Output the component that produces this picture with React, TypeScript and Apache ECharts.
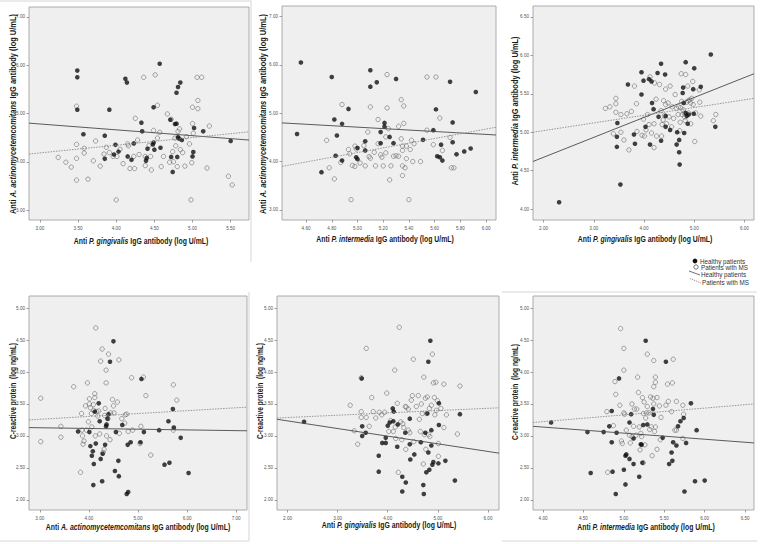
import React, { useEffect, useRef } from "react";
import * as echarts from "echarts";

// ---------- tick labels ----------
const ticksX1 = [3, 3.5, 4, 4.5, 5, 5.5];
const ticksY1 = [3, 4, 5, 6, 7];
const ticksX2 = [4.6, 4.8, 5.0, 5.2, 5.4, 5.6, 5.8, 6.0];
const ticksY2 = [3, 4, 5, 6, 7];
const ticksX3 = [2, 3, 4, 5, 6];
const ticksY3 = [4, 4.5, 5, 5.5, 6, 6.5];
const ticksX4 = [3, 4, 5, 6, 7];
const ticksX5 = [2, 3, 4, 5, 6];
const ticksX6 = [4, 4.5, 5, 5.5, 6, 6.5];
const ticksCrp = [2, 2.5, 3, 3.5, 4, 4.5, 5];

// ---------- axis titles ----------
const xTitles = [
  ["Anti ", "P. gingivalis", " IgG antibody (log U/mL)"],
  ["Anti ", "P. intermedia", " IgG antibody (log U/mL)"],
  ["Anti ", "P. gingivalis", " IgG antibody (log U/mL)"],
  ["Anti ", "A. actinomycetemcomitans", " IgG antibody (log U/mL)"],
  ["Anti ", "P. gingivalis", " IgG antibody (log U/mL)"],
  ["Anti ", "P. intermedia", " IgG antibody (log U/mL)"],
];
const yTitles = [
  ["Anti ", "A. actinomycetemcomitans", " IgG antibody (log U/mL)"],
  ["Anti ", "A. actinomycetemcomitans", " IgG antibody (log U/mL)"],
  ["Anti ", "P. intermedia", " IgG antibody (log U/mL)"],
  ["C-reactive protein  (log ng/mL)", "", ""],
  ["C-reactive protein  (log ng/mL)", "", ""],
  ["C-reactive protein  (log ng/mL)", "", ""],
];
const legendLabels = ["Healthy patients", "Patients with MS", "Healthy patients", "Patients with MS"];

// ---------- data: panel 1 (x: P. gingivalis, y: A. actinomycetemcomitans) ----------
const pgAaHealthy = [
  [3.49, 5.89], [3.49, 5.75], [3.49, 5.08], [3.57, 4.57], [3.85, 4.54], [3.85, 4.06], [3.91, 5.08],
  [3.97, 4.15], [3.99, 4.35], [4.03, 4.21], [4.12, 5.72], [4.14, 5.64], [4.15, 4.11], [4.2, 4.04],
  [4.23, 4.38], [4.33, 4.81], [4.34, 4.63], [4.39, 4.02], [4.4, 4.08], [4.41, 4.27], [4.48, 4.36],
  [4.49, 4.4], [4.49, 5.13], [4.5, 4.25], [4.58, 4.29], [4.57, 6.03], [4.71, 4.87], [4.72, 4.1],
  [4.74, 3.79], [4.77, 4.78], [4.79, 5.43], [4.8, 4.1], [4.81, 5.55], [4.84, 5.64], [4.79, 4.79],
  [4.81, 4.51], [4.82, 4.48], [4.86, 4.45], [5.0, 4.11], [5.01, 4.2], [5.02, 4.7], [5.14, 4.63],
  [5.5, 4.43],
];
const pgAaMS = [
  [3.24, 4.09], [3.34, 3.99], [3.41, 3.89], [3.48, 4.36], [3.48, 4.07], [3.48, 3.62], [3.48, 5.15],
  [3.58, 4.28], [3.58, 4.18], [3.63, 3.64], [3.7, 4.02], [3.73, 4.43], [3.79, 3.91], [3.84, 4.16],
  [3.87, 4.3], [3.91, 4.19], [3.96, 4.11], [4.0, 3.21], [4.01, 4.11], [4.05, 4.26], [4.09, 3.96],
  [4.15, 4.37], [4.16, 4.33], [4.18, 3.86], [4.23, 4.11], [4.24, 3.86], [4.25, 4.9], [4.28, 4.45],
  [4.3, 4.15], [4.36, 5.75], [4.38, 4.11], [4.38, 3.92], [4.43, 4.34], [4.45, 4.11], [4.46, 3.83],
  [4.49, 4.65], [4.51, 5.8], [4.54, 5.17], [4.54, 4.49], [4.57, 4.61], [4.59, 3.9], [4.62, 4.11],
  [4.67, 4.99], [4.7, 3.99], [4.72, 4.88], [4.74, 4.21], [4.75, 4.0], [4.77, 4.49], [4.78, 4.33],
  [4.8, 3.9], [4.81, 4.63], [4.83, 4.68], [4.84, 4.25], [4.87, 4.19], [4.9, 3.91], [4.92, 4.52],
  [4.96, 4.37], [4.98, 3.21], [4.99, 3.98], [5.0, 5.13], [5.0, 4.79], [5.01, 4.59], [5.07, 5.27],
  [5.07, 5.1], [5.06, 5.75], [5.12, 5.75], [5.19, 3.87], [5.22, 4.74], [5.47, 3.7], [5.52, 3.52],
];

// ---------- panel 2 (x: P. intermedia, y: A. actinomycetemcomitans) ----------
const piAaHealthy = [
  [4.56, 6.05], [4.53, 4.57], [4.72, 3.78], [4.8, 5.75], [4.82, 4.87], [4.84, 4.54], [4.83, 4.12],
  [4.88, 4.78], [4.88, 4.02], [4.93, 5.09], [5.0, 4.28], [4.99, 4.09], [5.0, 4.05], [5.06, 4.42],
  [5.06, 4.23], [5.1, 5.89], [5.1, 5.55], [5.15, 5.64], [5.18, 4.38], [5.18, 4.61], [5.21, 4.8],
  [5.21, 4.72], [5.25, 4.51], [5.28, 4.38], [5.3, 5.71], [5.51, 4.45], [5.59, 4.65], [5.62, 4.11],
  [5.64, 4.09], [5.61, 5.08], [5.65, 4.35], [5.72, 5.65], [5.74, 4.81], [5.74, 4.4], [5.77, 4.15],
  [5.83, 4.21], [5.88, 4.27], [5.92, 5.44], [5.66, 4.02],
];
const piAaMS = [
  [4.76, 4.44], [4.78, 3.87], [4.82, 3.64], [4.88, 5.18], [4.87, 3.98], [4.93, 4.25], [4.94, 4.16],
  [4.95, 3.21], [4.96, 3.92], [4.98, 3.9], [4.98, 4.32], [4.99, 4.26], [5.02, 3.97], [5.05, 4.33],
  [5.06, 3.91], [5.08, 4.61], [5.09, 4.1], [5.1, 4.07], [5.1, 5.13], [5.13, 4.19], [5.14, 3.91],
  [5.16, 4.87], [5.16, 4.37], [5.18, 4.14], [5.19, 4.09], [5.2, 3.91], [5.22, 4.51], [5.22, 4.18],
  [5.23, 5.8], [5.23, 5.11], [5.24, 4.68], [5.25, 3.62], [5.26, 3.91], [5.28, 4.11], [5.3, 4.12],
  [5.32, 4.73], [5.32, 4.11], [5.34, 5.28], [5.34, 4.47], [5.35, 4.32], [5.35, 4.23], [5.35, 3.91],
  [5.35, 3.71], [5.36, 5.15], [5.36, 4.79], [5.37, 3.87], [5.38, 4.06], [5.38, 4.32], [5.4, 3.21],
  [5.41, 4.25], [5.42, 4.44], [5.43, 4.0], [5.44, 4.37], [5.49, 4.0], [5.54, 5.75], [5.54, 4.65],
  [5.59, 4.35], [5.61, 5.75], [5.64, 4.9], [5.66, 4.23], [5.72, 4.5], [5.73, 3.87], [5.75, 3.87],
];

// ---------- panel 3 (x: P. gingivalis, y: P. intermedia) ----------
const pgPiHealthy = [
  [2.31, 4.09], [3.53, 4.32], [3.46, 4.81], [3.46, 4.94], [3.47, 5.12], [3.68, 5.62], [3.8, 4.97],
  [3.82, 4.85], [3.95, 5.49], [3.95, 5.78], [3.99, 5.67], [4.03, 5.07], [4.1, 5.69], [4.12, 4.84],
  [4.15, 5.66], [4.16, 5.38], [4.19, 5.3], [4.27, 5.77], [4.29, 5.2], [4.34, 5.89], [4.34, 4.89],
  [4.42, 5.75], [4.43, 5.21], [4.43, 5.07], [4.52, 5.03], [4.65, 4.84], [4.66, 5.0], [4.7, 4.9],
  [4.7, 4.74], [4.71, 4.58], [4.77, 5.51], [4.78, 5.58], [4.79, 5.38], [4.8, 4.99], [4.83, 5.91],
  [4.83, 5.25], [4.85, 5.21], [4.87, 5.11], [4.89, 5.23], [4.98, 5.56], [4.99, 5.24], [5.0, 5.83],
  [5.13, 5.59], [5.33, 6.01], [5.42, 5.07],
];
const pgPiMS = [
  [3.23, 5.31], [3.32, 5.33], [3.44, 5.44], [3.44, 5.37], [3.44, 5.26], [3.39, 4.98], [3.54, 5.23],
  [3.54, 5.0], [3.6, 4.9], [3.66, 5.24], [3.7, 4.77], [3.75, 5.27], [3.81, 5.6], [3.85, 5.37],
  [3.86, 5.01], [3.96, 4.96], [3.99, 5.17], [4.01, 4.95], [4.04, 5.03], [4.07, 5.23], [4.1, 5.1],
  [4.12, 5.72], [4.15, 4.99], [4.2, 4.8], [4.2, 5.11], [4.21, 5.64], [4.24, 5.43], [4.25, 4.95],
  [4.31, 5.62], [4.34, 5.28], [4.35, 4.95], [4.36, 5.1], [4.38, 5.16], [4.39, 5.41], [4.41, 5.22],
  [4.43, 5.56], [4.43, 5.36], [4.45, 5.11], [4.48, 5.38], [4.5, 5.2], [4.52, 5.6], [4.55, 5.07],
  [4.56, 5.33], [4.59, 5.18], [4.62, 5.49], [4.65, 5.31], [4.68, 5.23], [4.69, 5.33], [4.71, 5.02],
  [4.72, 5.13], [4.73, 5.32], [4.74, 5.76], [4.75, 5.4], [4.76, 5.23], [4.78, 5.29], [4.8, 5.25],
  [4.81, 5.2], [4.82, 5.15], [4.83, 5.75], [4.85, 5.39], [4.87, 5.6], [4.88, 5.41], [4.89, 5.25],
  [4.91, 5.42], [4.93, 5.38], [4.93, 5.11], [4.95, 5.44], [4.97, 5.66], [4.98, 5.36], [5.01, 4.88],
  [5.03, 5.25], [5.1, 5.55], [5.11, 5.39], [5.13, 5.21], [5.38, 5.15], [5.43, 5.23],
];

// ---------- panel 4 (x: A. actinomycetemcomitans, y: CRP) ----------
const aaCrpHealthy = [
  [3.78, 3.07], [4.01, 3.06], [4.03, 2.84], [4.06, 2.69], [4.08, 2.76], [4.1, 2.56], [4.09, 2.23],
  [4.12, 3.38], [4.14, 2.88], [4.2, 3.51], [4.22, 3.23], [4.24, 2.64], [4.27, 2.29], [4.28, 2.72],
  [4.33, 2.86], [4.35, 3.15], [4.36, 3.18], [4.38, 3.27], [4.4, 3.34], [4.43, 4.16], [4.5, 4.48],
  [4.53, 2.45], [4.55, 3.06], [4.6, 2.61], [4.61, 2.37], [4.68, 3.17], [4.77, 2.09], [4.8, 2.12],
  [4.79, 2.86], [4.85, 2.9], [5.05, 2.9], [5.07, 3.89], [5.12, 3.06], [5.43, 3.09], [5.54, 2.55],
  [5.64, 2.58], [5.62, 3.23], [5.71, 3.42], [5.73, 3.13], [5.87, 2.97], [6.03, 2.42],
];
const aaCrpMS = [
  [3.02, 3.59], [3.02, 2.91], [3.43, 3.15], [3.43, 2.98], [3.69, 3.77], [3.83, 2.43], [3.85, 3.35],
  [3.86, 3.09], [3.87, 3.0], [3.88, 2.87], [3.9, 2.92], [3.93, 3.47], [3.95, 3.09], [3.97, 3.83],
  [3.99, 3.22], [4.01, 3.58], [4.01, 3.5], [4.03, 3.44], [4.05, 3.35], [4.06, 3.14], [4.09, 3.49],
  [4.1, 3.4], [4.12, 3.6], [4.12, 3.66], [4.13, 3.0], [4.14, 4.69], [4.16, 3.38], [4.18, 3.31],
  [4.2, 3.39], [4.22, 3.03], [4.24, 4.17], [4.27, 4.36], [4.29, 2.74], [4.31, 2.79], [4.32, 3.32],
  [4.33, 3.43], [4.35, 3.83], [4.35, 4.03], [4.36, 3.0], [4.39, 3.27], [4.4, 4.28], [4.43, 2.94],
  [4.44, 3.36], [4.48, 3.57], [4.5, 3.47], [4.51, 3.36], [4.58, 3.53], [4.61, 4.19], [4.62, 3.04],
  [4.67, 3.27], [4.73, 3.2], [4.74, 3.33], [4.77, 3.34], [4.8, 3.07], [4.87, 3.91], [4.89, 3.09],
  [5.04, 2.88], [5.06, 3.15], [5.11, 3.92], [5.16, 3.63], [5.26, 2.7], [5.72, 3.8], [5.72, 3.09],
  [5.79, 3.56],
];

// ---------- panel 5 (x: P. gingivalis, y: CRP) ----------
const pgCrpHealthy = [
  [2.33, 3.22], [3.49, 3.0], [3.49, 3.15], [3.48, 3.9], [3.56, 3.05], [3.82, 2.69], [3.82, 2.44],
  [3.89, 2.89], [3.96, 2.89], [3.96, 2.97], [4.0, 3.16], [4.04, 3.21], [4.1, 3.43], [4.12, 3.38],
  [4.11, 3.23], [4.2, 3.18], [4.19, 2.83], [4.29, 2.36], [4.36, 2.27], [4.29, 2.13], [4.35, 3.05],
  [4.44, 3.27], [4.44, 2.87], [4.45, 2.63], [4.53, 2.71], [4.66, 2.9], [4.71, 2.23], [4.72, 2.09],
  [4.75, 3.05], [4.77, 2.43], [4.81, 2.74], [4.81, 4.16], [4.79, 3.35], [4.85, 4.49], [4.83, 2.47],
  [4.87, 3.09], [4.87, 2.85], [4.89, 2.55], [4.91, 2.59], [5.01, 2.57], [5.02, 3.51], [5.02, 3.17],
  [5.15, 2.61], [5.34, 2.3], [5.44, 3.34],
];
const pgCrpMS = [
  [3.25, 3.48], [3.33, 3.08], [3.4, 2.87], [3.47, 3.29], [3.47, 3.38], [3.47, 3.91], [3.57, 4.37],
  [3.57, 3.29], [3.63, 3.15], [3.68, 3.6], [3.71, 3.38], [3.76, 3.28], [3.83, 3.37], [3.88, 3.33],
  [3.94, 3.37], [3.98, 3.67], [4.02, 3.07], [4.06, 3.24], [4.11, 3.07], [4.14, 4.03], [4.15, 3.14],
  [4.16, 2.96], [4.19, 3.51], [4.21, 2.43], [4.23, 4.7], [4.26, 3.22], [4.28, 2.94], [4.3, 3.19],
  [4.32, 3.13], [4.35, 3.46], [4.36, 2.79], [4.37, 3.45], [4.41, 3.09], [4.41, 3.42], [4.44, 3.05],
  [4.47, 3.56], [4.49, 3.63], [4.51, 4.2], [4.52, 2.91], [4.57, 3.46], [4.61, 3.63], [4.63, 3.26],
  [4.65, 3.07], [4.67, 3.5], [4.69, 3.35], [4.71, 2.56], [4.72, 3.92], [4.73, 3.02], [4.75, 3.59],
  [4.76, 2.79], [4.77, 3.35], [4.79, 3.61], [4.81, 3.02], [4.83, 3.43], [4.84, 2.99], [4.87, 3.48],
  [4.89, 4.28], [4.91, 3.83], [4.93, 3.6], [4.94, 3.33], [4.96, 3.84], [4.97, 3.4], [4.99, 3.55],
  [5.01, 2.88], [5.01, 2.68], [5.06, 3.43], [5.12, 3.13], [5.12, 3.81], [5.17, 3.33], [5.39, 3.03],
  [5.44, 3.78],
];

// ---------- panel 6 (x: P. intermedia, y: CRP) ----------
const piCrpHealthy = [
  [4.1, 3.21], [4.55, 3.06], [4.59, 2.42], [4.75, 3.06], [4.82, 3.15], [4.85, 3.39], [4.85, 2.9],
  [4.86, 2.44], [4.9, 2.09], [4.91, 3.05], [4.94, 3.9], [5.0, 2.47], [5.02, 2.24], [5.02, 2.69],
  [5.03, 2.71], [5.07, 2.64], [5.07, 3.21], [5.09, 3.34], [5.12, 2.56], [5.12, 2.96], [5.19, 2.36],
  [5.21, 2.87], [5.22, 2.86], [5.23, 2.58], [5.24, 3.17], [5.27, 4.49], [5.29, 3.18], [5.36, 3.42],
  [5.37, 3.33], [5.48, 2.97], [5.52, 4.16], [5.56, 2.56], [5.59, 2.74], [5.6, 2.61], [5.61, 2.9],
  [5.65, 2.85], [5.67, 3.15], [5.7, 3.23], [5.74, 3.28], [5.75, 2.13], [5.77, 2.89], [5.83, 3.51],
  [5.88, 2.29], [5.9, 3.09], [6.0, 2.3],
];
const piCrpMS = [
  [4.79, 3.38], [4.8, 2.43], [4.87, 3.16], [4.89, 3.85], [4.9, 3.65], [4.95, 3.48], [4.96, 4.68],
  [4.97, 2.92], [4.98, 2.88], [5.0, 3.36], [5.0, 4.37], [5.0, 4.03], [5.01, 3.34], [5.03, 3.09],
  [5.07, 3.01], [5.08, 2.89], [5.1, 2.99], [5.1, 3.5], [5.12, 3.15], [5.13, 3.42], [5.15, 3.01],
  [5.16, 3.42], [5.17, 3.92], [5.18, 3.68], [5.19, 3.14], [5.2, 2.78], [5.21, 3.04], [5.22, 2.99],
  [5.23, 3.6], [5.24, 3.35], [5.24, 2.58], [5.25, 3.53], [5.26, 2.86], [5.27, 3.28], [5.28, 3.36],
  [5.29, 3.46], [5.29, 4.28], [5.31, 3.36], [5.32, 3.1], [5.33, 3.61], [5.34, 3.14], [5.35, 2.69],
  [5.36, 3.59], [5.37, 3.5], [5.37, 4.18], [5.37, 3.77], [5.38, 3.07], [5.39, 3.14], [5.39, 3.92],
  [5.39, 3.84], [5.41, 2.79], [5.41, 3.6], [5.44, 3.47], [5.45, 2.94], [5.46, 3.29], [5.52, 3.48],
  [5.54, 3.81], [5.55, 3.54], [5.59, 3.38], [5.6, 3.83], [5.61, 4.2], [5.63, 3.09], [5.65, 3.09],
  [5.65, 3.54], [5.73, 3.48], [5.73, 2.96], [5.74, 3.34],
];

// ---------- regression lines: value at left and right end of each x axis ----------
const fitHealthy = [[4.8, 4.45], [4.8, 4.55], [4.62, 5.76], [3.13, 3.08], [3.26, 2.73], [3.15, 2.89]];
const fitMS = [[4.16, 4.62], [3.9, 4.71], [5.0, 5.44], [3.25, 3.45], [3.28, 3.44], [3.21, 3.5]];

// ---------- layout ----------
const grids = [
  { left: 29, top: 7, width: 220, height: 213 },
  { left: 282, top: 6, width: 214, height: 214 },
  { left: 533, top: 6, width: 221, height: 214 },
  { left: 29, top: 296, width: 218, height: 214 },
  { left: 277, top: 296, width: 222, height: 214 },
  { left: 533, top: 296, width: 221, height: 214 },
];
const xRanges = [[2.857, 5.74], [4.413, 6.077], [1.79, 6.19], [2.78, 7.22], [1.79, 6.22], [3.876, 6.61]];
const yRanges = [[2.793, 7.207], [2.79, 7.22], [3.86, 6.64], [1.84, 5.19], [1.84, 5.19], [1.84, 5.19]];
const xTickSets = [ticksX1, ticksX2, ticksX3, ticksX4, ticksX5, ticksX6];
const yTickSets = [ticksY1, ticksY2, ticksY3, ticksCrp, ticksCrp, ticksCrp];
const healthySets = [pgAaHealthy, piAaHealthy, pgPiHealthy, aaCrpHealthy, pgCrpHealthy, piCrpHealthy];
const msSets = [pgAaMS, piAaMS, pgPiMS, aaCrpMS, pgCrpMS, piCrpMS];
const xTitlePos = [[141, 241], [385, 239], [645, 239], [138, 527], [389, 525], [646, 527]];
const yTitlePos = [[13, 114], [263, 114], [515, 111], [13, 391], [260, 391], [515, 392]];
const yTitleSize = [9, 9, 9, 8, 8, 8];
const TITLE_SQUEEZE = 0.83;
const TITLE_TALL = 1.1;

const SANS = "'Liberation Sans', Arial, sans-serif";

function titleGraphic(parts: string[], x: number, y: number, size: number, rotate: boolean) {
  const [a, b, c] = parts;
  let text = "{n|" + a + "}";
  if (b) text += "{i|" + b + "}";
  if (c) text += "{n|" + c + "}";
  const base = { fontSize: size, fontFamily: SANS, fontWeight: "bold", fill: "#1a1a1a" };
  return {
    type: "text",
    x,
    y,
    rotation: rotate ? Math.PI / 2 : 0,
    scaleX: TITLE_SQUEEZE,
    scaleY: TITLE_TALL,
    silent: true,
    style: {
      text,
      ...base,
      align: "center",
      verticalAlign: "middle",
      rich: {
        n: { ...base, fontStyle: "normal" },
        i: { ...base, fontStyle: "italic" },
      },
    },
  };
}

export default function App() {
  const ref = useRef<HTMLDivElement>(null);

  useEffect(() => {
    if (!ref.current) return;
    const chart = echarts.init(ref.current, undefined, { renderer: "svg" });

    const xAxis = grids.map((_, i) => ({
      type: "value",
      gridIndex: i,
      min: xRanges[i][0],
      max: xRanges[i][1],
      axisLine: { show: false },
      splitLine: { show: false },
      axisTick: { show: true, customValues: xTickSets[i], length: 2.5, lineStyle: { color: "#777", width: 0.7 } },
      axisLabel: {
        customValues: xTickSets[i],
        formatter: (v: number) => v.toFixed(2),
        fontSize: 4.6,
        fontFamily: SANS,
        color: "#555",
        margin: 6,
      },
    }));
    const yAxis = grids.map((_, i) => ({
      type: "value",
      gridIndex: i,
      min: yRanges[i][0],
      max: yRanges[i][1],
      axisLine: { show: false },
      splitLine: { show: false },
      axisTick: { show: true, customValues: yTickSets[i], length: 2.5, lineStyle: { color: "#777", width: 0.7 } },
      axisLabel: {
        customValues: yTickSets[i],
        formatter: (v: number) => v.toFixed(2),
        fontSize: 4.6,
        fontFamily: SANS,
        color: "#555",
        margin: 4,
      },
    }));

    const series: any[] = [];
    grids.forEach((_, i) => {
      series.push({
        type: "scatter",
        xAxisIndex: i,
        yAxisIndex: i,
        data: msSets[i],
        symbol: "circle",
        symbolSize: 4.4,
        itemStyle: { color: "rgba(0,0,0,0)", borderColor: "#707070", borderWidth: 0.8 },
        silent: true,
        z: 2,
      });
      series.push({
        type: "scatter",
        xAxisIndex: i,
        yAxisIndex: i,
        data: healthySets[i],
        symbol: "circle",
        symbolSize: 4.6,
        itemStyle: { color: "#111" },
        silent: true,
        z: 3,
      });
      series.push({
        type: "line",
        xAxisIndex: i,
        yAxisIndex: i,
        data: [[xRanges[i][0], fitHealthy[i][0]], [xRanges[i][1], fitHealthy[i][1]]],
        symbol: "none",
        lineStyle: { color: "#4a4a4a", width: 0.9 },
        silent: true,
        z: 4,
      });
      series.push({
        type: "line",
        xAxisIndex: i,
        yAxisIndex: i,
        data: [[xRanges[i][0], fitMS[i][0]], [xRanges[i][1], fitMS[i][1]]],
        symbol: "none",
        lineStyle: { color: "#8a8a8a", width: 0.9, type: [1.5, 1.2] },
        silent: true,
        z: 4,
      });
    });

    const graphic: any[] = [];
    grids.forEach((_, i) => {
      graphic.push(titleGraphic(xTitles[i], xTitlePos[i][0], xTitlePos[i][1], 8.3, false));
      graphic.push(titleGraphic(yTitles[i], yTitlePos[i][0], yTitlePos[i][1], yTitleSize[i], true));
    });

    // faint panel frames
    const frame = (x1: number, y1: number, x2: number, y2: number) => ({
      type: "line",
      silent: true,
      shape: { x1, y1, x2, y2 },
      style: { stroke: "#d6d6d6", lineWidth: 1 },
    });
    graphic.push(frame(0, 1, 251, 1), frame(251, 1, 251, 262));
    graphic.push(frame(249, 292, 249, 541), frame(0, 541, 249, 541));
    graphic.push(frame(502, 292, 757, 292), frame(502, 541, 757, 541));

    // legend
    const legText = (t: string, x: number, y: number) => ({
      type: "text",
      x,
      y,
      silent: true,
      style: { text: t, fontSize: 6.3, fontFamily: SANS, fill: "#333", align: "left", verticalAlign: "middle" },
    });
    graphic.push(
      { type: "circle", silent: true, shape: { cx: 695, cy: 261, r: 2.4 }, style: { fill: "#111" } },
      legText(legendLabels[0], 700, 261),
      { type: "circle", silent: true, shape: { cx: 696, cy: 267, r: 2.2 }, style: { fill: "none", stroke: "#555", lineWidth: 0.8 } },
      legText(legendLabels[1], 701, 267),
      { type: "line", silent: true, shape: { x1: 689, y1: 271, x2: 700, y2: 275 }, style: { stroke: "#4a4a4a", lineWidth: 0.8 } },
      legText(legendLabels[2], 701, 274),
      { type: "line", silent: true, shape: { x1: 690, y1: 278.5, x2: 701, y2: 283 }, style: { stroke: "#777", lineWidth: 0.8, lineDash: [1.2, 1] } },
      legText(legendLabels[3], 702, 282)
    );

    chart.setOption({
      animation: false,
      backgroundColor: "#ffffff",
      grid: grids.map((g) => ({
        ...g,
        show: true,
        backgroundColor: "#efefef",
        borderColor: "#9a9a9a",
        borderWidth: 0.8,
        containLabel: false,
      })),
      xAxis,
      yAxis,
      series,
      graphic,
    });

    return () => chart.dispose();
  }, []);

  return (
    <div
      ref={ref}
      style={{ position: "absolute", left: 0, top: 0, width: 760, height: 544, background: "#fff" }}
    />
  );
}
